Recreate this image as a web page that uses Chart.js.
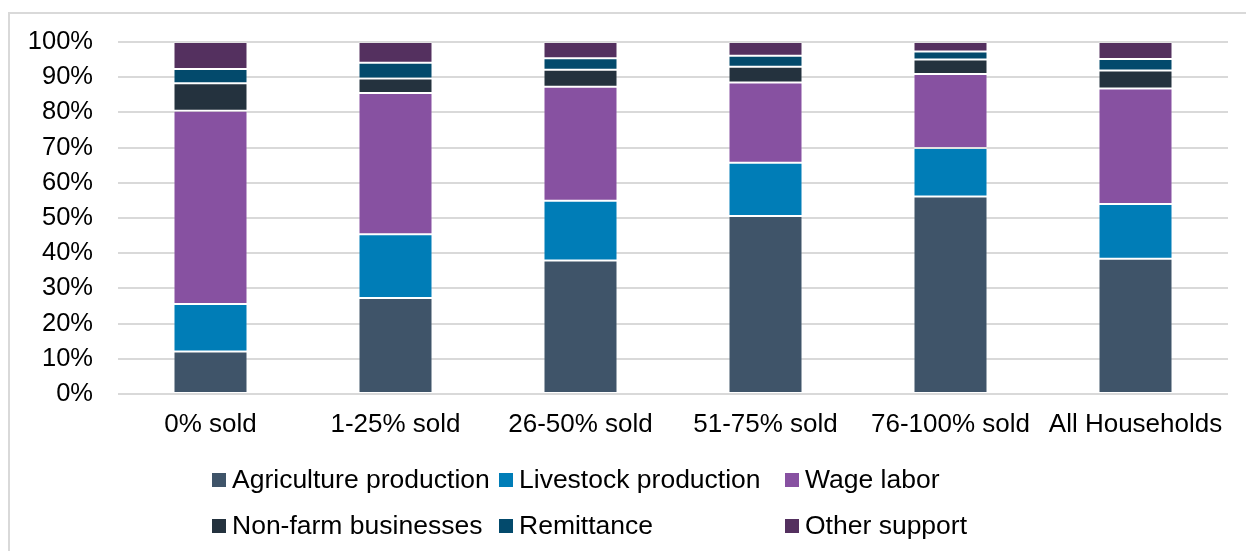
<!DOCTYPE html>
<html>
<head>
<meta charset="utf-8">
<title>Household income sources by share of harvest sold</title>
<script src="https://cdn.jsdelivr.net/npm/chart.js@4/dist/chart.umd.min.js"></script>
<style>
  html, body { margin: 0; padding: 0; background: #ffffff; }
  #wrap { width: 1246px; height: 551px; position: relative; }
</style>
</head>
<body>
<div id="wrap"><canvas id="chart" width="1246" height="551"></canvas></div>
<script>
// Share of household income by source (%), per group of crop share sold
const categories = ['0% sold', '1-25% sold', '26-50% sold', '51-75% sold', '76-100% sold', 'All Households'];

const agricultureProduction = [12.1, 27.3, 37.9, 50.6, 56.1, 38.4];
const livestockProduction   = [13.5, 18.1, 17.0, 15.1, 13.8, 15.6];
const wageLabor             = [54.9, 40.1, 32.4, 22.8, 21.0, 32.8];
const nonFarmBusinesses     = [7.8, 4.1, 4.8, 4.5, 4.1, 5.1];
const remittance            = [4.0, 4.5, 3.3, 3.1, 2.3, 3.3];
const otherSupport          = [7.7, 5.9, 4.6, 3.9, 2.7, 4.8];

const yTicks = [0, 10, 20, 30, 40, 50, 60, 70, 80, 90, 100];

const FONT = '"Liberation Sans", Arial, sans-serif';
const TEXT = '#000000';

const series = [
  { label: 'Agriculture production', data: agricultureProduction, color: '#3f5469' },
  { label: 'Livestock production',   data: livestockProduction,   color: '#007db7' },
  { label: 'Wage labor',             data: wageLabor,             color: '#8751a1' },
  { label: 'Non-farm businesses',    data: nonFarmBusinesses,     color: '#24323e' },
  { label: 'Remittance',             data: remittance,            color: '#034a6c' },
  { label: 'Other support',          data: otherSupport,          color: '#54305f' }
];

// Thin frame along the top and left edges of the figure
const framePlugin = {
  id: 'frame',
  beforeDraw(chart) {
    const ctx = chart.ctx;
    ctx.save();
    ctx.strokeStyle = '#d9d9d9';
    ctx.lineWidth = 2;
    ctx.beginPath();
    ctx.moveTo(9, chart.height);
    ctx.lineTo(9, 13);
    ctx.lineTo(chart.width, 13);
    ctx.stroke();
    ctx.restore();
  }
};

// Legend laid out as a grid of fixed columns, two rows
const gridLegendPlugin = {
  id: 'gridLegend',
  afterDraw(chart, args, opts) {
    const ctx = chart.ctx;
    const cols = opts.columns;
    const rows = opts.rows;
    const box = opts.boxSize;
    ctx.save();
    ctx.font = opts.font;
    ctx.textBaseline = 'middle';
    ctx.textAlign = 'left';
    chart.data.datasets.forEach((ds, i) => {
      const col = i % cols.length;
      const row = Math.floor(i / cols.length);
      const x = cols[col];
      const y = rows[row];
      ctx.fillStyle = ds.backgroundColor;
      ctx.fillRect(x, y - box / 2, box, box);
      ctx.fillStyle = TEXT;
      ctx.fillText(ds.label, x + box + opts.gap, y + 1);
    });
    ctx.restore();
  }
};

new Chart(document.getElementById('chart'), {
  type: 'bar',
  data: {
    labels: categories,
    datasets: series.map(s => ({
      label: s.label,
      data: s.data,
      backgroundColor: s.color,
      borderColor: 'rgba(255,255,255,0.22)',
      borderWidth: 1,
      borderSkipped: false,
      barPercentage: 0.4,
      categoryPercentage: 1.0
    }))
  },
  options: {
    responsive: false,
    animation: false,
    layout: { padding: { left: 0, right: 18, top: 42, bottom: 0 } },
    plugins: {
      legend: { display: false },
      tooltip: { enabled: false },
      gridLegend: {
        columns: [212, 499, 785],
        rows: [480, 526],
        boxSize: 14,
        gap: 6,
        font: '26.5px ' + FONT
      }
    },
    scales: {
      x: {
        stacked: true,
        grid: { display: false, drawTicks: false },
        border: { display: false },
        ticks: {
          color: TEXT,
          font: { family: FONT, size: 26 },
          padding: 15,
          maxRotation: 0,
          autoSkip: false
        },
        afterFit(scale) { scale.height = 157; }
      },
      y: {
        stacked: true,
        min: 0,
        max: 100,
        afterBuildTicks(scale) { scale.ticks = yTicks.map(v => ({ value: v })); },
        grid: { color: '#d9d9d9', lineWidth: 2, drawTicks: false },
        border: { display: false },
        ticks: {
          color: TEXT,
          font: { family: FONT, size: 25.5 },
          padding: 25,
          callback: v => v + '%'
        },
        afterFit(scale) { scale.width = 118; }
      }
    }
  },
  plugins: [framePlugin, gridLegendPlugin]
});
</script>
</body>
</html>
